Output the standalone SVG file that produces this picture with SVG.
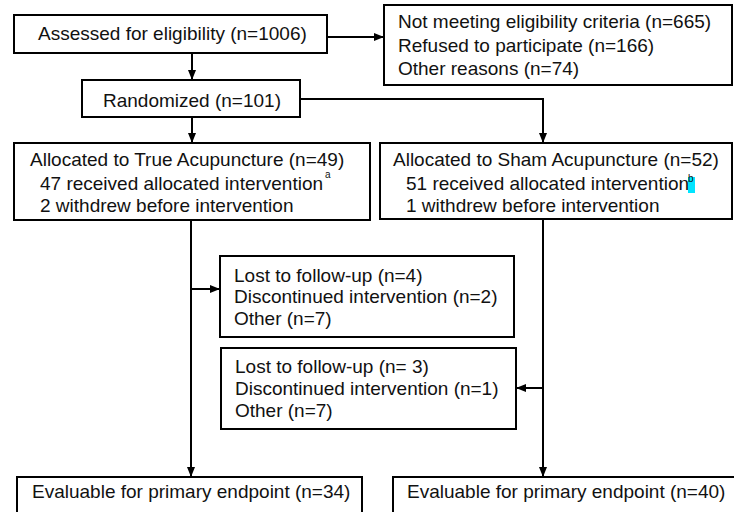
<svg xmlns="http://www.w3.org/2000/svg" width="734" height="512" viewBox="0 0 734 512">
<style>
.box{fill:#fff;stroke:#000;stroke-width:2}
.t{font-family:"Liberation Sans",Arial,Helvetica,sans-serif;font-size:19px;fill:#111}
.sup{font-family:"Liberation Sans",Arial,Helvetica,sans-serif;font-size:10px;fill:#111}
.c{fill:none;stroke:#000;stroke-width:2}
</style>
<defs>
<marker id="ah" markerUnits="userSpaceOnUse" markerWidth="10" markerHeight="10" viewBox="0 0 10 10" refX="10" refY="5" orient="auto">
<path d="M0,1 L10,5 L0,9 Z" fill="#000"/>
</marker>
</defs>
<rect width="734" height="512" fill="#fff"/>
<g id="connectors">
<line class="c" x1="327" y1="37" x2="384" y2="37" marker-end="url(#ah)"/>
<line class="c" x1="192" y1="53" x2="192" y2="80" marker-end="url(#ah)"/>
<polyline class="c" points="300,99 543,99 543,143" marker-end="url(#ah)"/>
<line class="c" x1="192" y1="117" x2="192" y2="143" marker-end="url(#ah)"/>
<line class="c" x1="191" y1="220" x2="191" y2="477" marker-end="url(#ah)"/>
<line class="c" x1="191" y1="289" x2="220" y2="289" marker-end="url(#ah)"/>
<line class="c" x1="543" y1="219" x2="543" y2="477" marker-end="url(#ah)"/>
<line class="c" x1="543" y1="388" x2="516" y2="388" marker-end="url(#ah)"/>
</g>
<g id="assessed">
<rect class="box" x="14" y="15" width="313" height="38"/>
<text class="t" x="38" y="40">Assessed for eligibility (n=1006)</text>
</g>
<g id="excluded">
<rect class="box" x="384" y="5" width="348" height="80"/>
<text class="t" x="398" y="28">Not meeting eligibility criteria (n=665)</text>
<text class="t" x="398" y="52">Refused to participate (n=166)</text>
<text class="t" x="398" y="75">Other reasons (n=74)</text>
</g>
<g id="randomized">
<rect class="box" x="82" y="80" width="218" height="37"/>
<text class="t" x="103" y="107">Randomized (n=101)</text>
</g>
<g id="true-acu">
<rect class="box" x="14" y="143" width="356" height="77"/>
<text class="t" x="30" y="166">Allocated to True Acupuncture (n=49)</text>
<text class="t" x="40" y="190">47 received allocated intervention</text>
<text class="sup" x="325" y="178">a</text>
<text class="t" x="40" y="212">2 withdrew before intervention</text>
</g>
<g id="sham-acu">
<rect class="box" x="380" y="143" width="352" height="76"/>
<text class="t" x="393" y="166">Allocated to Sham Acupuncture (n=52)</text>
<text class="t" x="406" y="190">51 received allocated intervention</text>
<rect x="688" y="177" width="7" height="16" fill="#00e5ff"/>
<text class="sup" x="688" y="182">b</text>
<text class="t" x="406" y="212">1 withdrew before intervention</text>
</g>
<g id="lost-true">
<rect class="box" x="220" y="256" width="294" height="81"/>
<text class="t" x="234" y="282">Lost to follow-up (n=4)</text>
<text class="t" x="234" y="303">Discontinued intervention (n=2)</text>
<text class="t" x="234" y="325">Other (n=7)</text>
</g>
<g id="lost-sham">
<rect class="box" x="221" y="348" width="295" height="81"/>
<text class="t" x="235" y="373">Lost to follow-up (n= 3)</text>
<text class="t" x="235" y="395">Discontinued intervention (n=1)</text>
<text class="t" x="235" y="417">Other (n=7)</text>
</g>
<g id="eval-true">
<rect class="box" x="17" y="477" width="345" height="40"/>
<text class="t" x="32" y="498">Evaluable for primary endpoint (n=34)</text>
</g>
<g id="eval-sham">
<rect class="box" x="393" y="477" width="345" height="40"/>
<text class="t" x="407" y="498">Evaluable for primary endpoint (n=40)</text>
</g>
</svg>
